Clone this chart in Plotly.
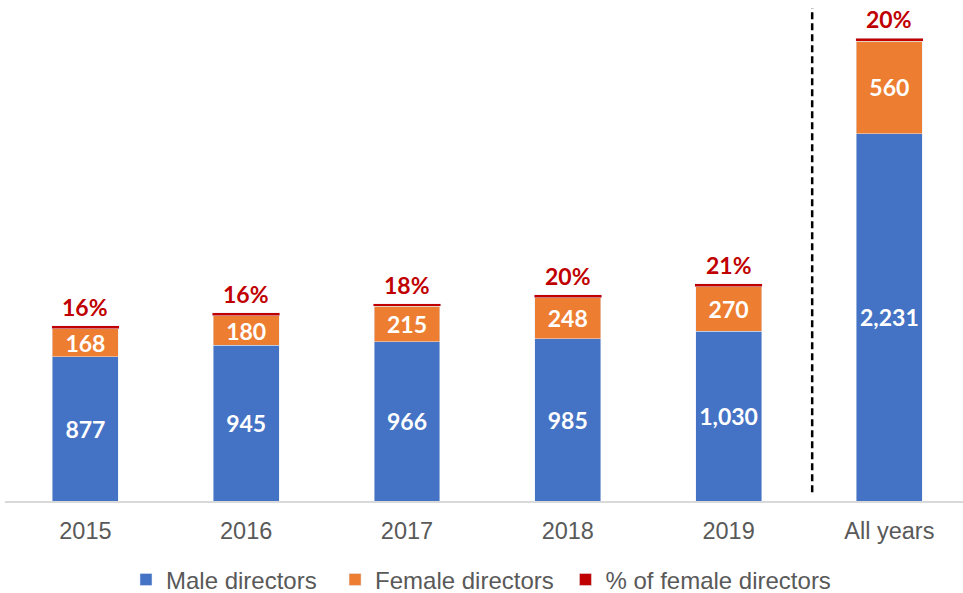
import plotly.graph_objects as go

categories = ["2015", "2016", "2017", "2018", "2019", "All years"]
male = [877, 945, 966, 985, 1030, 2231]
female = [168, 180, 215, 248, 270, 560]
pct_labels = ["16%", "16%", "18%", "20%", "21%", "20%"]

BLUE = "#4472C4"
ORANGE = "#ED7D31"
RED = "#C00000"
GREY = "#595959"
LINE_THICK = 18  # visual thickness of the % marker (in data units)
NBSP = "\u00a0"

def fmt(v):
    return f"{v:,}"

label_font = dict(family="Lato", size=23, color="white", weight="bold")

fig = go.Figure()
fig.add_trace(go.Bar(
    x=categories, y=male, name="Male directors" + NBSP * 2, marker_color=BLUE,
    width=0.41, text=[fmt(v) for v in male], textposition="inside",
    insidetextanchor="middle", textangle=0, constraintext="none",
    textfont=label_font,
))
fig.add_trace(go.Bar(
    x=categories, y=female, name="Female directors" + NBSP, marker_color=ORANGE,
    width=0.41, text=[fmt(v) for v in female], textposition="inside",
    insidetextanchor="middle", textangle=0, constraintext="none",
    textfont=label_font,
))
fig.add_trace(go.Bar(
    x=categories, y=[LINE_THICK] * len(categories), name="% of female directors",
    marker_color=RED, width=0.42, hovertext=pct_labels, hoverinfo="text+name",
))

for i, (m, f, p) in enumerate(zip(male, female, pct_labels)):
    fig.add_annotation(
        x=i, y=m + f + LINE_THICK, text=p, showarrow=False,
        yanchor="middle", yshift=19,
        font=dict(family="Lato", size=23, color=RED, weight="bold"),
    )

fig.add_shape(
    type="line", xref="x", yref="paper", x0=4.52, x1=4.52, y0=0.018, y1=1.0,
    line=dict(color="black", width=2.5, dash="7px,4px"),
)

fig.update_layout(
    barmode="stack",
    width=963, height=593,
    margin=dict(l=5, r=0, t=8, b=92, autoexpand=False),
    paper_bgcolor="white", plot_bgcolor="white",
    showlegend=True,
    legend=dict(orientation="h", x=0.1263, xanchor="left", y=-0.16, yanchor="middle",
                font=dict(family="Liberation Sans", size=24, color=GREY),
                itemwidth=30, traceorder="normal"),
)
fig.update_xaxes(
    type="category", range=[-0.5, 5.458], showline=True, linecolor="#D9D9D9",
    linewidth=1.5, ticks="", showgrid=False, zeroline=False,
    tickfont=dict(family="Liberation Sans", size=23.5, color=GREY),
    ticklabelstandoff=8, automargin=False,
)
fig.update_yaxes(range=[0, 2993], visible=False, showgrid=False, zeroline=False)

fig.write_html(
    "out.html",
    config={"displayModeBar": False},
    post_script="document.body.style.margin='0';document.body.style.padding='0';",
)
